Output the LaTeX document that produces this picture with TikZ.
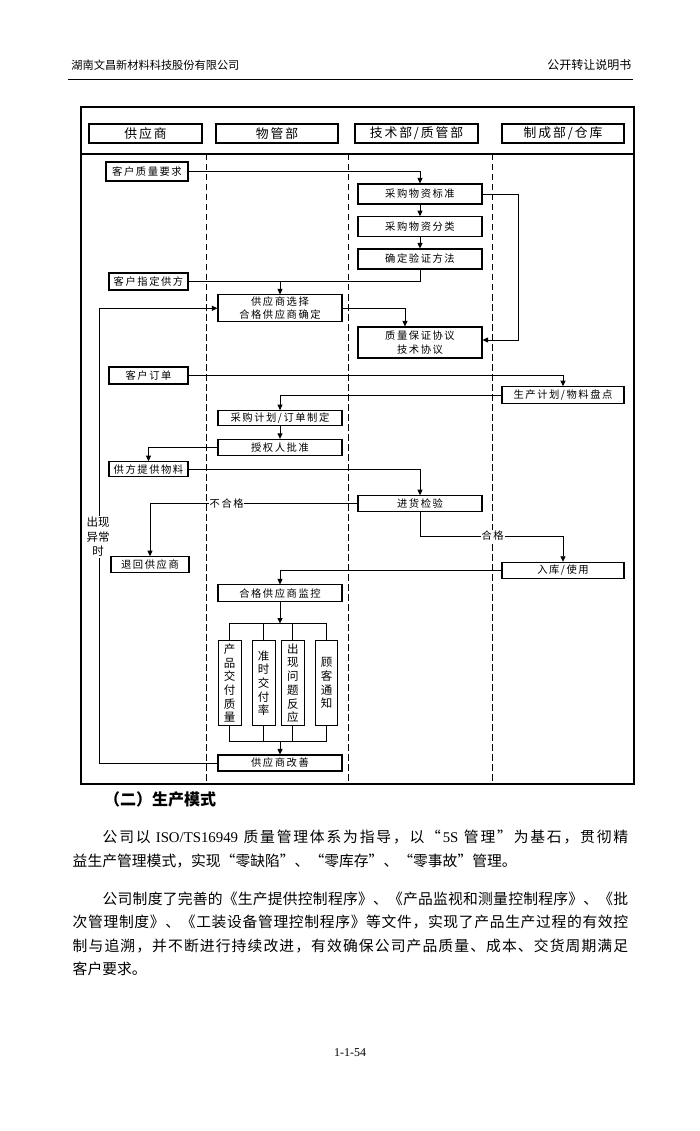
\documentclass[tikz,border=0pt]{standalone}
\usepackage{fontspec}
\setmainfont{Noto Sans CJK SC}
\newfontfamily\cjksp[LetterSpace=15]{Noto Sans CJK SC}
\newfontfamily\latn{Liberation Serif}
\usetikzlibrary{arrows.meta}
\newcommand\boxfont{\cjksp\fontsize{10.3}{13}\selectfont}
\newcommand\lanefont{\cjksp\fontsize{12.8}{14}\selectfont}
\newcommand\vfont{\fontsize{11.5}{13.7}\selectfont}
\newcommand\bodyfont{\fontsize{14.8}{24}\selectfont}
% spread characters of a line evenly: \sprd <tokens>\relax
\def\sprd#1{#1\sprdloop}
\def\sprdloop#1{\ifx\relax#1\else\hskip0pt plus 1fil\relax #1\expandafter\sprdloop\fi}
\begin{document}
\begin{tikzpicture}[x=1pt,y=-1pt,
  box/.style={draw, line width=1.05pt, inner sep=0pt, font=\boxfont, align=center},
  vbox/.style={draw, line width=1.05pt, inner sep=0pt, font=\vfont, align=center, minimum height=85pt},
  lane/.style={draw, line width=1.05pt, inner sep=0pt, minimum height=19pt, font=\lanefont},
  conn/.style={line width=0.85pt},
  arr/.style={line width=0.85pt, -{Triangle[length=5.5pt,width=5pt]}},
  lbl/.style={fill=white, inner sep=0.8pt, font=\boxfont},
  bline/.style={anchor=base west, inner sep=0pt, font=\bodyfont}]
\useasboundingbox (0,0) rectangle (700,1131);
\fill[white] (0,0) rectangle (700,1131);

% page header
\node[anchor=base west, inner sep=0pt, font=\fontsize{11.2}{13}\selectfont] (hl) at (71.2,69.3) {湖南文昌新材料科技股份有限公司};
\node[anchor=base east, inner sep=0pt, font=\fontsize{12}{13}\selectfont] (hr) at (631.5,69.5) {公开转让说明书};
\draw[line width=1.3pt] (68,79.5) -- (633,79.5);

% frame
\draw[line width=1.2pt] (81,107) rectangle (634,784);
\draw[line width=1.2pt] (81,154) -- (634,154);
\foreach \xx in {206,348,492}
  \draw[line width=1pt, dash pattern=on 6.5pt off 3.5pt] (\xx,154) -- (\xx,784);

% lanes
\node[lane, minimum width=113pt] (l1) at (145.5,133.5) {供应商};
\node[lane, minimum width=122pt] (l2) at (277,133.5) {物管部};
\node[lane, minimum width=123pt] (l3) at (416.5,133.5) {技术部/质管部};
\node[lane, minimum width=122pt] (l4) at (563,133.5) {制成部/仓库};

% boxes
\node[box, minimum width=82pt, minimum height=19pt] (kzyq) at (147,171.5) {客户质量要求};
\node[box, minimum width=124pt, minimum height=20pt] (cgbz) at (420,194) {采购物资标准};
\node[box, minimum width=124pt, minimum height=20pt] (cgfl) at (420,226.7) {采购物资分类};
\node[box, minimum width=124pt, minimum height=20pt] (yzff) at (420,259) {确定验证方法};
\node[box, minimum width=79pt, minimum height=17pt] (zdgf) at (148.5,281.5) {客户指定供方};
\node[box, minimum width=124pt, minimum height=26.7pt, font=\cjksp\fontsize{10.3}{12.5}\selectfont] (gysxz) at (280,308.3) {供应商选择\\合格供应商确定};
\node[box, minimum width=124pt, minimum height=31pt, font=\cjksp\fontsize{10.3}{14}\selectfont] (zlxy) at (420,342.5) {质量保证协议\\技术协议};
\node[box, minimum width=79pt, minimum height=17pt] (khdd) at (148.5,375.5) {客户订单};
\node[box, minimum width=122pt, minimum height=16.6pt] (scjh) at (563,395) {生产计划/物料盘点};
\node[box, minimum width=124pt, minimum height=15.3pt] (cgjh) at (280,418.3) {采购计划/订单制定};
\node[box, minimum width=124pt, minimum height=15.7pt] (sqr) at (280,447.2) {授权人批准};
\node[box, minimum width=79pt, minimum height=15pt] (gftg) at (148.5,469.2) {供方提供物料};
\node[box, minimum width=124pt, minimum height=16pt] (jhjy) at (420,503.7) {进货检验};
\node[box, minimum width=78pt, minimum height=16pt] (thgys) at (150,564.7) {退回供应商};
\node[box, minimum width=122pt, minimum height=16pt] (rksy) at (563,570.3) {入库/使用};
\node[box, minimum width=124pt, minimum height=16.7pt] (hgjk) at (280,593.3) {合格供应商监控};
\node[vbox, minimum width=22.7pt] (v1) at (229.7,683.2) {产\\品\\交\\付\\质\\量};
\node[vbox, minimum width=22.7pt] (v2) at (263.7,683.2) {准\\时\\交\\付\\率};
\node[vbox, minimum width=22.3pt] (v3) at (292.9,683.2) {出\\现\\问\\题\\反\\应};
\node[vbox, minimum width=22pt] (v4) at (326.7,683.2) {顾\\客\\通\\知};
\node[box, minimum width=124pt, minimum height=16pt] (gysgs) at (280,763) {供应商改善};

% connectors
\draw[arr] (kzyq.east) -| (cgbz.north);
\draw[arr] (cgbz.south) -- (cgfl.north);
\draw[arr] (cgfl.south) -- (yzff.north);
\draw[conn] (yzff.south) |- (zdgf.east);
\coordinate (j1) at (gysxz.north |- zdgf.east);
\draw[arr] (j1) -- (gysxz.north);
\draw[arr] (cgbz.east) -| ([xshift=36pt,yshift=2.5pt]zlxy.east) -- ([yshift=2.5pt]zlxy.east);
\draw[arr] (gysxz.east) -| ([xshift=-15pt]zlxy.north);
\draw[arr] (khdd.east) -| (scjh.north);
\draw[arr] (scjh.west) -| (cgjh.north);
\draw[arr] (cgjh.south) -- (sqr.north);
\draw[arr] (sqr.west) -| (gftg.north);
\draw[arr] (gftg.east) -| (jhjy.north);
\draw[arr] (jhjy.west) -| (thgys.north);
\node[lbl] (bhg) at (226.7,503.7) {不合格};
\coordinate (hgc) at (jhjy.south |- 0,536);
\draw[arr] (jhjy.south) -- (hgc) -| (rksy.north);
\node[lbl] (hg) at (492.7,536) {合格};
\draw[arr] (rksy.west) -| (hgjk.north);
\coordinate (b1) at (280,623.5);
\coordinate (b2) at (280,741.7);
\draw[arr] (hgjk.south) -- (b1);
\draw[conn] (v1.north) |- (v4.north |- b1) -- (v4.north);
\draw[conn] (v2.north) -- (v2.north |- b1);
\draw[conn] (v3.north) -- (v3.north |- b1);
\draw[conn] (v1.south) |- (v4.south |- b2) -- (v4.south);
\draw[conn] (v2.south) -- (v2.south |- b2);
\draw[conn] (v3.south) -- (v3.south |- b2);
\draw[arr] (b2) -- (gysgs.north);
\coordinate (fb) at (99,0);
\draw[arr] (gysgs.west) -| (fb |- gysxz.west) -- (gysxz.west);
\node[lbl, align=center, font=\fontsize{11.5}{14.5}\selectfont] (yc) at (98,537) {出现\\异常\\时};

% text below
\node[anchor=base west, inner sep=0pt, font=\bfseries\fontsize{16}{18}\selectfont] (hd) at (104,805) {（二）生产模式};
\node[bline] (p1a) at (102.5,842.5) {\hbox to 525.5pt{\sprd 公司以{{\ \latn ISO/TS16949\ }}质量管理体系为指导，以“{{\latn 5S\ }}管理”为基石，贯彻精\relax}};
\node[bline] (p1b) at (72.5,866.5) {\hbox to 444pt{\sprd 益生产管理模式，实现“零缺陷”、“零库存”、“零事故”管理。\relax}};
\node[bline] (p2a) at (102.5,904) {\hbox to 525.5pt{\sprd 公司制度了完善的《生产提供控制程序》、《产品监视和测量控制程序》、《批\relax}};
\node[bline] (p2b) at (72.5,927.5) {\hbox to 555.5pt{\sprd 次管理制度》、《工装设备管理控制程序》等文件，实现了产品生产过程的有效控\relax}};
\node[bline] (p2c) at (72.5,951) {\hbox to 555.5pt{\sprd 制与追溯，并不断进行持续改进，有效确保公司产品质量、成本、交货周期满足\relax}};
\node[bline] (p2d) at (72.5,974.5) {客户要求。};
\node[inner sep=0pt, font=\latn\fontsize{12}{14}\selectfont] (pg) at (350,1053) {1-1-54};
\end{tikzpicture}
\end{document}
